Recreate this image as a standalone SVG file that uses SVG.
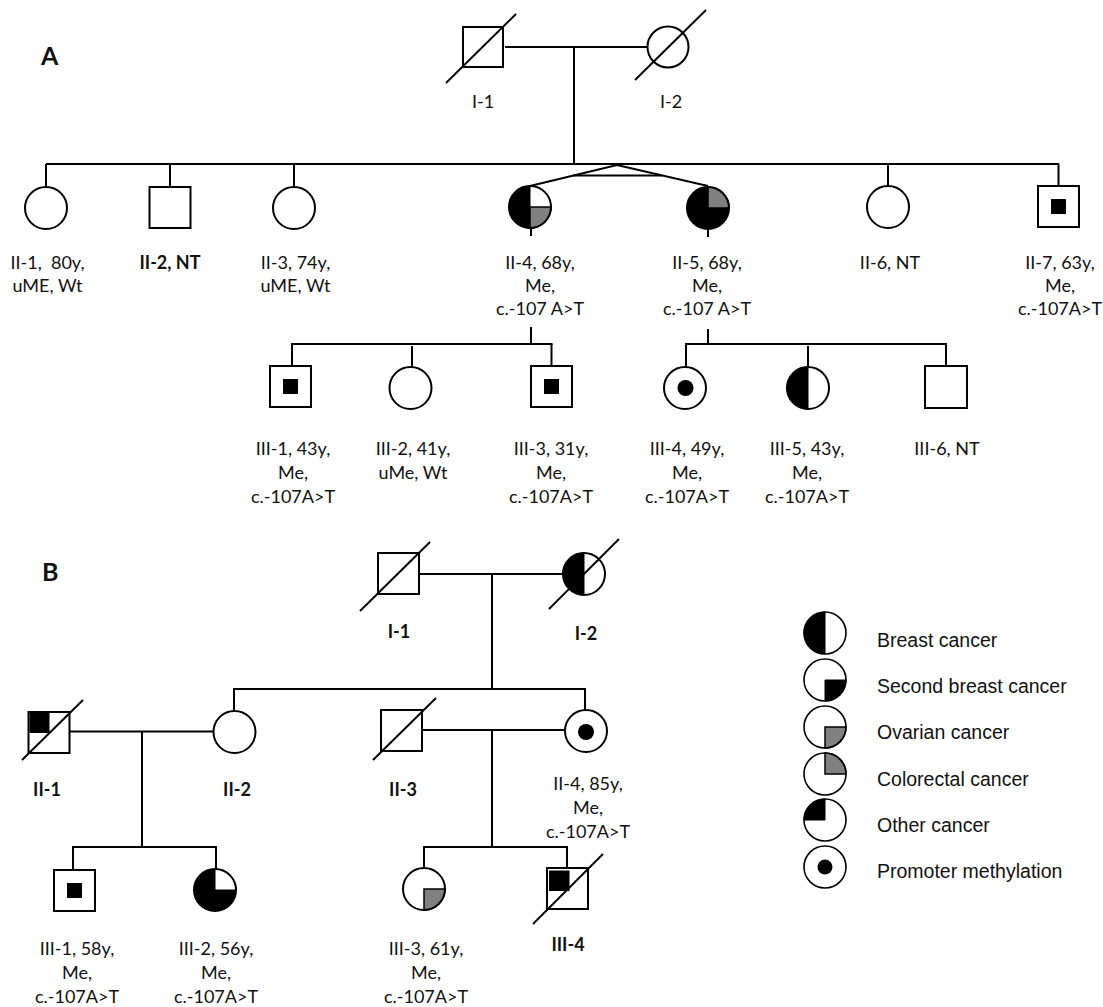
<svg xmlns="http://www.w3.org/2000/svg" xmlns:xlink="http://www.w3.org/1999/xlink" width="1103" height="1007" viewBox="0 0 1103 1007">
<style>
.ln{stroke:#000;stroke-width:2;fill:none}
.sh{stroke:#000;stroke-width:2;fill:#fff}
.blk{fill:#000;stroke:#000;stroke-width:1}
.gry{fill:#808080;stroke:#000;stroke-width:1.5}
.lab{font-family:Lato,"Liberation Sans",sans-serif;font-size:18px;fill:#111;text-anchor:middle}
.b{font-weight:bold}
.pl{font-family:Lato,"Liberation Sans",sans-serif;font-size:25px;font-weight:bold;fill:#111}
.leg{font-family:"Liberation Sans",Arial,sans-serif;font-size:19.5px;fill:#111}
.lc{stroke:#000;stroke-width:1.6;fill:none}
</style>
<defs>
<path id="hl" d="M0,-21 A21,21 0 0 0 0,21 Z"/>
<path id="qtr" d="M0,0 L0,-21 A21,21 0 0 1 21,0 Z"/>
<path id="qbr" d="M0,0 L21,0 A21,21 0 0 1 0,21 Z"/>
<path id="qtl" d="M0,0 L-21,0 A21,21 0 0 1 0,-21 Z"/>
<rect id="msq" x="-7.5" y="-7.5" width="15" height="15"/>
</defs>

<text class="pl" x="41" y="65">A</text>
<text class="pl" x="42" y="581">B</text>

<g id="connectors">
<!-- Pedigree A -->
<line class="ln" x1="505" y1="47" x2="648" y2="47"/>
<line class="ln" x1="574" y1="47" x2="574" y2="164"/>
<line class="ln" x1="46" y1="164" x2="1059" y2="164"/>
<line class="ln" x1="46" y1="164" x2="46" y2="187"/>
<line class="ln" x1="170" y1="164" x2="170" y2="187"/>
<line class="ln" x1="294" y1="164" x2="294" y2="187"/>
<line class="ln" x1="888" y1="164" x2="888" y2="186"/>
<line class="ln" x1="1058.5" y1="164" x2="1058.5" y2="186"/>
<polyline class="ln" points="530,186 617,165 708,186"/>
<line class="ln" x1="573" y1="175.5" x2="662" y2="175.5"/>
<line class="ln" x1="531" y1="228" x2="531" y2="236"/>
<line class="ln" x1="708" y1="229" x2="708" y2="237"/>
<line class="ln" x1="531" y1="327" x2="531" y2="344"/>
<line class="ln" x1="708" y1="329" x2="708" y2="344"/>
<line class="ln" x1="291" y1="344" x2="552.5" y2="344"/>
<line class="ln" x1="292" y1="344" x2="292" y2="366"/>
<line class="ln" x1="412" y1="346" x2="412" y2="367"/>
<line class="ln" x1="551.5" y1="344" x2="551.5" y2="366"/>
<line class="ln" x1="685" y1="344" x2="947" y2="344"/>
<line class="ln" x1="686" y1="344" x2="686" y2="367"/>
<line class="ln" x1="808" y1="346" x2="808" y2="367"/>
<line class="ln" x1="946" y1="344" x2="946" y2="366"/>
<!-- Pedigree B -->
<line class="ln" x1="419" y1="574" x2="563" y2="574"/>
<line class="ln" x1="492" y1="574" x2="492" y2="689"/>
<line class="ln" x1="233" y1="689" x2="586" y2="689"/>
<line class="ln" x1="234" y1="689" x2="234" y2="711"/>
<line class="ln" x1="585" y1="689" x2="585" y2="710"/>
<line class="ln" x1="69.5" y1="731.5" x2="213.5" y2="731.5"/>
<line class="ln" x1="142" y1="731.5" x2="142" y2="847"/>
<line class="ln" x1="422" y1="730" x2="565" y2="730"/>
<line class="ln" x1="492" y1="730" x2="492" y2="847"/>
<line class="ln" x1="72" y1="847" x2="217" y2="847"/>
<line class="ln" x1="73" y1="847" x2="73" y2="870"/>
<line class="ln" x1="216" y1="847" x2="216" y2="869"/>
<line class="ln" x1="423" y1="847" x2="568" y2="847"/>
<line class="ln" x1="424" y1="847" x2="424" y2="868"/>
<line class="ln" x1="567" y1="847" x2="567" y2="868"/>
</g>

<!-- ===== Pedigree A ===== -->
<g id="A-I-1">
<rect class="sh" x="463" y="27" width="40" height="40"/>
<line class="ln" x1="446" y1="83" x2="516" y2="14"/>
<text class="lab" x="483" y="108">I-1</text>
</g>
<g id="A-I-2">
<circle class="sh" cx="668" cy="47" r="20.5"/>
<line class="ln" x1="635" y1="80" x2="706" y2="10"/>
<text class="lab" x="671" y="108">I-2</text>
</g>

<g id="A-II-1">
<circle class="sh" cx="46" cy="208" r="21"/>
<text class="lab" x="47.5" y="269" xml:space="preserve">II-1,  80y,<tspan x="47.5" y="292">uME, Wt</tspan></text>
</g>
<g id="A-II-2">
<rect class="sh" x="149.5" y="187" width="41" height="41"/>
<text class="lab b" x="170" y="269">II-2, NT</text>
</g>
<g id="A-II-3">
<circle class="sh" cx="294" cy="208" r="21"/>
<text class="lab" x="295.5" y="269">II-3, 74y,<tspan x="295.5" y="292">uME, Wt</tspan></text>
</g>
<g id="A-II-4">
<circle cx="530" cy="207" r="21" fill="#fff"/>
<use href="#hl" xlink:href="#hl" x="530" y="207" class="blk"/>
<use href="#qbr" xlink:href="#qbr" x="530" y="207" class="gry"/>
<circle class="ln" cx="530" cy="207" r="21"/>
<text class="lab" x="540" y="269">II-4, 68y,<tspan x="540" y="292">Me,</tspan><tspan x="540" y="315">c.-107 A&gt;T</tspan></text>
</g>
<g id="A-II-5">
<circle cx="708" cy="208" r="21" fill="#000"/>
<use href="#qtr" xlink:href="#qtr" x="708" y="208" class="gry"/>
<circle class="ln" cx="708" cy="208" r="21"/>
<text class="lab" x="707" y="269">II-5, 68y,<tspan x="707" y="292">Me,</tspan><tspan x="707" y="315">c.-107 A&gt;T</tspan></text>
</g>
<g id="A-II-6">
<circle class="sh" cx="888" cy="207" r="21"/>
<text class="lab" x="890" y="269">II-6, NT</text>
</g>
<g id="A-II-7">
<rect class="sh" x="1038" y="186" width="41" height="41"/>
<use href="#msq" xlink:href="#msq" x="1058.5" y="206.5" fill="#000"/>
<text class="lab" x="1060" y="269">II-7, 63y,<tspan x="1060" y="292">Me,</tspan><tspan x="1060" y="315">c.-107A&gt;T</tspan></text>
</g>

<g id="A-III-1">
<rect class="sh" x="270" y="366" width="41" height="41"/>
<use href="#msq" xlink:href="#msq" x="290.5" y="386.5" fill="#000"/>
<text class="lab" x="293" y="455">III-1, 43y,<tspan x="293" y="479">Me,</tspan><tspan x="293" y="503">c.-107A&gt;T</tspan></text>
</g>
<g id="A-III-2">
<circle class="sh" cx="410.5" cy="388" r="21"/>
<text class="lab" x="413" y="455">III-2, 41y,<tspan x="413" y="479">uMe, Wt</tspan></text>
</g>
<g id="A-III-3">
<rect class="sh" x="531" y="366" width="41" height="41"/>
<use href="#msq" xlink:href="#msq" x="551.5" y="386.5" fill="#000"/>
<text class="lab" x="551" y="455">III-3, 31y,<tspan x="551" y="479">Me,</tspan><tspan x="551" y="503">c.-107A&gt;T</tspan></text>
</g>
<g id="A-III-4">
<circle class="sh" cx="685" cy="388" r="21"/>
<circle cx="685.5" cy="388" r="8" fill="#000"/>
<text class="lab" x="687" y="455">III-4, 49y,<tspan x="687" y="479">Me,</tspan><tspan x="687" y="503">c.-107A&gt;T</tspan></text>
</g>
<g id="A-III-5">
<circle cx="808" cy="388" r="21" fill="#fff"/>
<use href="#hl" xlink:href="#hl" x="808" y="388" class="blk"/>
<circle class="ln" cx="808" cy="388" r="21"/>
<text class="lab" x="807" y="455">III-5, 43y,<tspan x="807" y="479">Me,</tspan><tspan x="807" y="503">c.-107A&gt;T</tspan></text>
</g>
<g id="A-III-6">
<rect class="sh" x="925" y="366" width="42" height="42"/>
<text class="lab" x="947" y="455">III-6, NT</text>
</g>

<!-- ===== Pedigree B ===== -->
<g id="B-I-1">
<rect class="sh" x="378" y="553" width="41" height="41"/>
<line class="ln" x1="360" y1="611" x2="430" y2="542"/>
<text class="lab b" x="399" y="638">I-1</text>
</g>
<g id="B-I-2">
<circle cx="584" cy="574" r="21" fill="#fff"/>
<use href="#hl" xlink:href="#hl" x="584" y="574" class="blk"/>
<circle class="ln" cx="584" cy="574" r="21"/>
<line class="ln" x1="549" y1="609" x2="619" y2="539"/>
<text class="lab b" x="586" y="640">I-2</text>
</g>
<g id="B-II-1">
<rect class="sh" x="28.5" y="712" width="41" height="41"/>
<rect x="29.5" y="713" width="20" height="20" fill="#000"/>
<line class="ln" x1="22" y1="760" x2="83" y2="700"/>
<text class="lab b" x="47" y="796">II-1</text>
</g>
<g id="B-II-2">
<circle class="sh" cx="234.5" cy="732" r="21"/>
<text class="lab b" x="237" y="796">II-2</text>
</g>
<g id="B-II-3">
<rect class="sh" x="381" y="710" width="41" height="41"/>
<line class="ln" x1="373" y1="760" x2="436" y2="698"/>
<text class="lab b" x="403" y="796">II-3</text>
</g>
<g id="B-II-4">
<circle class="sh" cx="586" cy="731" r="21"/>
<circle cx="586" cy="732" r="8" fill="#000"/>
<text class="lab" x="588" y="790">II-4, 85y,<tspan x="588" y="814">Me,</tspan><tspan x="588" y="838">c.-107A&gt;T</tspan></text>
</g>
<g id="B-III-1">
<rect class="sh" x="54" y="870" width="41" height="41"/>
<use href="#msq" xlink:href="#msq" x="74.5" y="890.5" fill="#000"/>
<text class="lab" x="77" y="955">III-1, 58y,<tspan x="77" y="979">Me,</tspan><tspan x="77" y="1003">c.-107A&gt;T</tspan></text>
</g>
<g id="B-III-2">
<circle cx="215" cy="890" r="21" fill="#000"/>
<use href="#qtr" xlink:href="#qtr" x="215" y="890" fill="#fff" stroke="#000" stroke-width="1"/>
<circle class="ln" cx="215" cy="890" r="21"/>
<text class="lab" x="216" y="955">III-2, 56y,<tspan x="216" y="979">Me,</tspan><tspan x="216" y="1003">c.-107A&gt;T</tspan></text>
</g>
<g id="B-III-3">
<circle cx="424" cy="889" r="21" fill="#fff"/>
<use href="#qbr" xlink:href="#qbr" x="424" y="889" class="gry"/>
<circle class="ln" cx="424" cy="889" r="21"/>
<text class="lab" x="426" y="955">III-3, 61y,<tspan x="426" y="979">Me,</tspan><tspan x="426" y="1003">c.-107A&gt;T</tspan></text>
</g>
<g id="B-III-4">
<rect class="sh" x="547" y="868" width="41" height="41"/>
<rect x="549" y="870.5" width="20.5" height="20.5" fill="#000"/>
<line class="ln" x1="533" y1="924" x2="603" y2="854"/>
<text class="lab b" x="568" y="951">III-4</text>
</g>

<!-- ===== Legend ===== -->
<g id="legend">
<g id="leg-breast">
<circle cx="825" cy="633" r="21" fill="#fff"/>
<use href="#hl" xlink:href="#hl" x="825" y="633" class="blk"/>
<circle class="lc" cx="825" cy="633" r="21"/>
<text class="leg" x="877" y="647">Breast cancer</text>
</g>
<g id="leg-second">
<circle cx="825" cy="680" r="21" fill="#fff"/>
<use href="#qbr" xlink:href="#qbr" x="825" y="680" class="blk"/>
<circle class="lc" cx="825" cy="680" r="21"/>
<text class="leg" x="877" y="693">Second breast cancer</text>
</g>
<g id="leg-ovarian">
<circle cx="825" cy="727" r="21" fill="#fff"/>
<use href="#qbr" xlink:href="#qbr" x="825" y="727" class="gry"/>
<circle class="lc" cx="825" cy="727" r="21"/>
<text class="leg" x="877" y="739">Ovarian cancer</text>
</g>
<g id="leg-colorectal">
<circle cx="825" cy="774" r="21" fill="#fff"/>
<use href="#qtr" xlink:href="#qtr" x="825" y="774" class="gry"/>
<circle class="lc" cx="825" cy="774" r="21"/>
<text class="leg" x="877" y="786">Colorectal cancer</text>
</g>
<g id="leg-other">
<circle cx="825" cy="820" r="21" fill="#fff"/>
<use href="#qtl" xlink:href="#qtl" x="825" y="820" class="blk"/>
<circle class="lc" cx="825" cy="820" r="21"/>
<text class="leg" x="877" y="832">Other cancer</text>
</g>
<g id="leg-methyl">
<circle class="lc" cx="825" cy="867" r="21" fill="#fff"/>
<circle cx="825" cy="867" r="7.5" fill="#000"/>
<text class="leg" x="877" y="878">Promoter methylation</text>
</g>
</g>
</svg>
